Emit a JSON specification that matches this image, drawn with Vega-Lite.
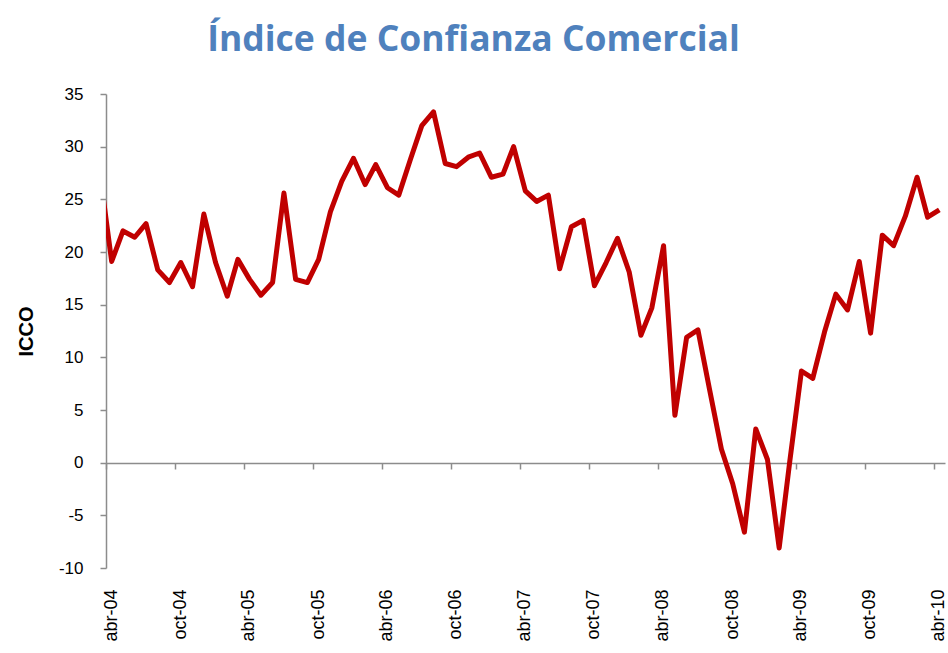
{
  "$schema": "https://vega.github.io/schema/vega-lite/v6.json",
  "autosize": {"type": "none"},
  "padding": {"left": 106, "top": 94, "right": 3, "bottom": 85},
  "width": 839,
  "height": 474,
  "background": "white",
  "title": {
    "text": "Índice de Confianza Comercial",
    "font": "Open Sans",
    "fontWeight": "bold",
    "fontSize": 35.5,
    "color": "#4F81BD",
    "anchor": "middle",
    "frame": "group",
    "dx": -52,
    "offset": 27
  },
  "config": {
    "view": {"stroke": null},
    "axis": {"labelFont": "Liberation Sans", "titleFont": "Liberation Sans"}
  },
  "data": {
    "values": [
      {"fecha": "2004-03-16", "icco": 27.5},
      {"fecha": "2004-04-16", "icco": 19.1},
      {"fecha": "2004-05-16", "icco": 22.0},
      {"fecha": "2004-06-16", "icco": 21.4},
      {"fecha": "2004-07-16", "icco": 22.7},
      {"fecha": "2004-08-16", "icco": 18.3},
      {"fecha": "2004-09-16", "icco": 17.1},
      {"fecha": "2004-10-16", "icco": 19.0},
      {"fecha": "2004-11-16", "icco": 16.7},
      {"fecha": "2004-12-16", "icco": 23.6},
      {"fecha": "2005-01-16", "icco": 19.0},
      {"fecha": "2005-02-16", "icco": 15.8},
      {"fecha": "2005-03-16", "icco": 19.3},
      {"fecha": "2005-04-16", "icco": 17.4},
      {"fecha": "2005-05-16", "icco": 15.9},
      {"fecha": "2005-06-16", "icco": 17.1},
      {"fecha": "2005-07-16", "icco": 25.6},
      {"fecha": "2005-08-16", "icco": 17.4},
      {"fecha": "2005-09-16", "icco": 17.1},
      {"fecha": "2005-10-16", "icco": 19.3},
      {"fecha": "2005-11-16", "icco": 23.8},
      {"fecha": "2005-12-16", "icco": 26.7},
      {"fecha": "2006-01-16", "icco": 28.9},
      {"fecha": "2006-02-16", "icco": 26.4},
      {"fecha": "2006-03-16", "icco": 28.3},
      {"fecha": "2006-04-16", "icco": 26.1},
      {"fecha": "2006-05-16", "icco": 25.4},
      {"fecha": "2006-06-16", "icco": 28.8},
      {"fecha": "2006-07-16", "icco": 32.0},
      {"fecha": "2006-08-16", "icco": 33.3},
      {"fecha": "2006-09-16", "icco": 28.4},
      {"fecha": "2006-10-16", "icco": 28.1},
      {"fecha": "2006-11-16", "icco": 29.0},
      {"fecha": "2006-12-16", "icco": 29.4},
      {"fecha": "2007-01-16", "icco": 27.1},
      {"fecha": "2007-02-16", "icco": 27.4},
      {"fecha": "2007-03-16", "icco": 30.0},
      {"fecha": "2007-04-16", "icco": 25.8},
      {"fecha": "2007-05-16", "icco": 24.8},
      {"fecha": "2007-06-16", "icco": 25.4},
      {"fecha": "2007-07-16", "icco": 18.4},
      {"fecha": "2007-08-16", "icco": 22.4},
      {"fecha": "2007-09-16", "icco": 23.0},
      {"fecha": "2007-10-16", "icco": 16.8},
      {"fecha": "2007-11-16", "icco": 19.0},
      {"fecha": "2007-12-16", "icco": 21.3},
      {"fecha": "2008-01-16", "icco": 18.1},
      {"fecha": "2008-02-16", "icco": 12.1},
      {"fecha": "2008-03-16", "icco": 14.7},
      {"fecha": "2008-04-16", "icco": 20.6},
      {"fecha": "2008-05-16", "icco": 4.5},
      {"fecha": "2008-06-16", "icco": 11.9},
      {"fecha": "2008-07-16", "icco": 12.6},
      {"fecha": "2008-08-16", "icco": 6.9},
      {"fecha": "2008-09-16", "icco": 1.3},
      {"fecha": "2008-10-16", "icco": -2.0},
      {"fecha": "2008-11-16", "icco": -6.6},
      {"fecha": "2008-12-16", "icco": 3.2},
      {"fecha": "2009-01-16", "icco": 0.3},
      {"fecha": "2009-02-16", "icco": -8.1},
      {"fecha": "2009-03-16", "icco": 0.1},
      {"fecha": "2009-04-16", "icco": 8.7},
      {"fecha": "2009-05-16", "icco": 8.0},
      {"fecha": "2009-06-16", "icco": 12.4},
      {"fecha": "2009-07-16", "icco": 16.0},
      {"fecha": "2009-08-16", "icco": 14.5},
      {"fecha": "2009-09-16", "icco": 19.1},
      {"fecha": "2009-10-16", "icco": 12.3},
      {"fecha": "2009-11-16", "icco": 21.6},
      {"fecha": "2009-12-16", "icco": 20.6},
      {"fecha": "2010-01-16", "icco": 23.4},
      {"fecha": "2010-02-16", "icco": 27.1},
      {"fecha": "2010-03-16", "icco": 23.3},
      {"fecha": "2010-04-16", "icco": 24.0}
    ]
  },
  "mark": {"type": "line", "color": "#C00000", "strokeWidth": 5, "clip": true, "strokeJoin": "round", "strokeCap": "butt"},
  "encoding": {
    "x": {
      "field": "fecha",
      "type": "temporal",
      "scale": {
        "type": "utc",
        "domain": [
          {"year": 2004, "month": 4, "date": 1, "utc": true},
          {"year": 2010, "month": 5, "date": 1, "utc": true}
        ]
      },
      "axis": {
        "title": null,
        "values": [
          {"year": 2004, "month": 4, "date": 1, "utc": true},
          {"year": 2004, "month": 10, "date": 1, "utc": true},
          {"year": 2005, "month": 4, "date": 1, "utc": true},
          {"year": 2005, "month": 10, "date": 1, "utc": true},
          {"year": 2006, "month": 4, "date": 1, "utc": true},
          {"year": 2006, "month": 10, "date": 1, "utc": true},
          {"year": 2007, "month": 4, "date": 1, "utc": true},
          {"year": 2007, "month": 10, "date": 1, "utc": true},
          {"year": 2008, "month": 4, "date": 1, "utc": true},
          {"year": 2008, "month": 10, "date": 1, "utc": true},
          {"year": 2009, "month": 4, "date": 1, "utc": true},
          {"year": 2009, "month": 10, "date": 1, "utc": true},
          {"year": 2010, "month": 4, "date": 1, "utc": true}
        ],
        "labelExpr": "['ene','feb','mar','abr','may','jun','jul','ago','sep','oct','nov','dic'][utcmonth(datum.value)] + '-' + utcFormat(datum.value, '%y')",
        "labelAngle": -90,
        "labelAlign": "right",
        "labelBaseline": "middle",
        "labelFontSize": 18,
        "labelColor": "#000000",
        "labelOffset": 5,
        "labelPadding": 120,
        "labelFlush": false,
        "labelOverlap": false,
        "offset": -105,
        "domainColor": "#8C8C8C",
        "domainWidth": 1.5,
        "tickColor": "#8C8C8C",
        "tickWidth": 1.5,
        "tickSize": 6,
        "grid": false
      }
    },
    "y": {
      "field": "icco",
      "type": "quantitative",
      "scale": {"domain": [-10, 35], "nice": false, "zero": false},
      "axis": {
        "title": "ICCO",
        "titleFontSize": 20,
        "titleFontWeight": "bold",
        "titleColor": "#000000",
        "titlePadding": 22,
        "values": [-10, -5, 0, 5, 10, 15, 20, 25, 30, 35],
        "labelExpr": "toString(datum.value)",
        "labelFontSize": 17,
        "labelColor": "#000000",
        "labelPadding": 17,
        "domainColor": "#8C8C8C",
        "domainWidth": 1.5,
        "tickColor": "#8C8C8C",
        "tickWidth": 1.5,
        "tickSize": 6,
        "grid": false
      }
    }
  }
}
